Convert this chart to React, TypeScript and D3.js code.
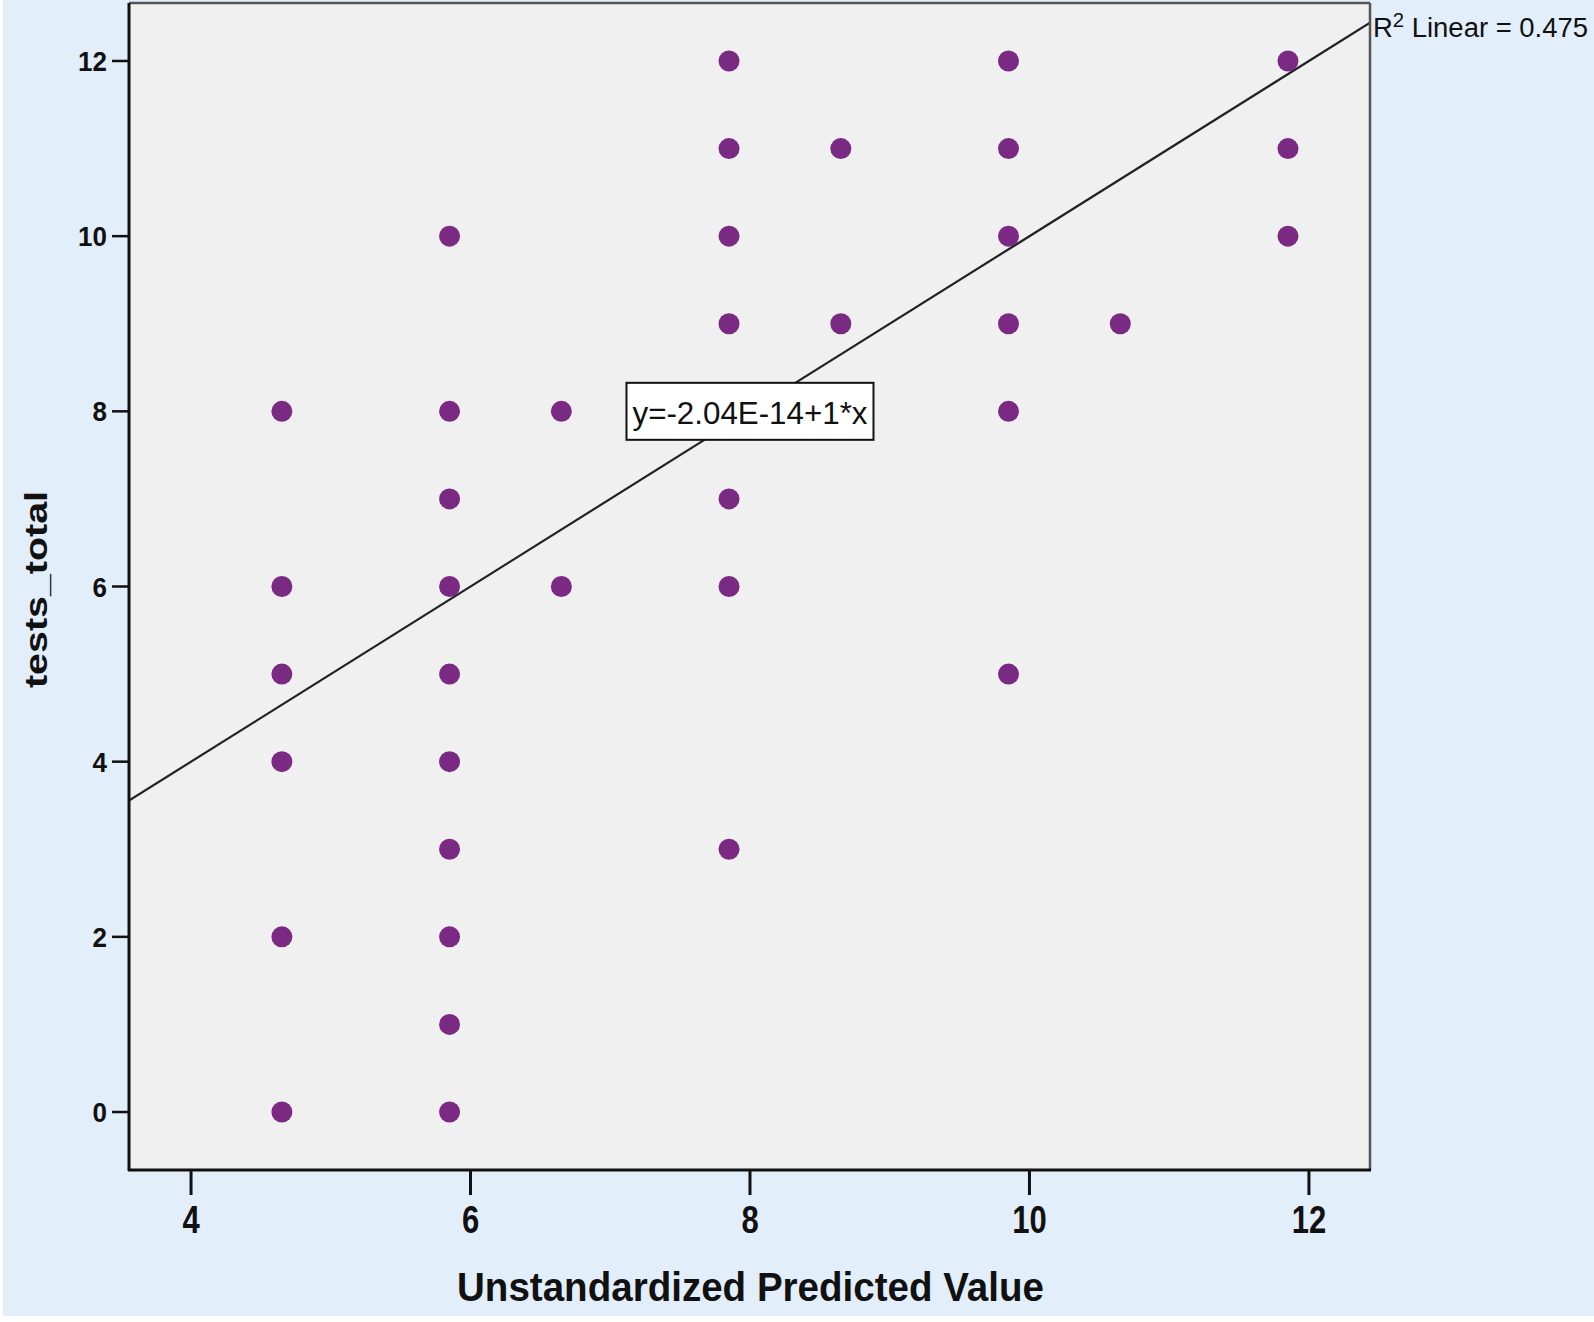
import React from "react";
import * as d3 from "d3";

// predicted value levels (x) and the tests_total values seen at each level (y)
const predictedLevels = [4.65, 5.85, 6.65, 7.85, 8.65, 9.85, 10.65, 11.85];
const testsAtLevel = [
  [8, 6, 5, 4, 2, 0],
  [10, 8, 7, 6, 5, 4, 3, 2, 1, 0],
  [8, 6],
  [12, 11, 10, 9, 7, 6, 3],
  [11, 9],
  [12, 11, 10, 9, 8, 5],
  [9],
  [12, 11, 10],
];

const xTicks = [4, 6, 8, 10, 12];
const yTicks = [0, 2, 4, 6, 8, 10, 12];

const fitIntercept = -2.04e-14;
const fitSlope = 1;
const rSquared = "0.475";
const equationLabel = "y=-2.04E-14+1*x";

const W = 1594;
const H = 1322;
const plot = { left: 129, right: 1370, top: 3, bottom: 1170 };

const dotColor = "#7b2a83";
const sans = "'Liberation Sans', Arial, sans-serif";

const App = () => {
  const x = d3.scaleLinear().domain([3.556, 12.437]).range([plot.left, plot.right]);
  const y = d3.scaleLinear().domain([-0.662, 12.662]).range([plot.bottom, plot.top]);

  const points = predictedLevels.flatMap((px, i) =>
    testsAtLevel[i].map((py) => ({ px, py }))
  );

  const [x0, x1] = x.domain();
  const fitLine = d3
    .line<number>()
    .x((d) => x(d))
    .y((d) => y(fitIntercept + fitSlope * d));

  const boxW = 247;
  const boxH = 57;
  const bx = x(8);
  const by = y(fitIntercept + fitSlope * 8);

  return (
    <div style={{ position: "absolute", left: 0, top: 0 }}>
      <svg width={W} height={H} style={{ display: "block" }}>
        <rect x={0} y={0} width={W} height={H} fill="#ffffff" />
        <rect x={3} y={0} width={W - 3} height={1316} fill="#e2eefa" />

        <defs>
          <clipPath id="plotClip">
            <rect x={plot.left} y={plot.top} width={plot.right - plot.left} height={plot.bottom - plot.top} />
          </clipPath>
        </defs>

        <rect
          x={plot.left}
          y={plot.top}
          width={plot.right - plot.left}
          height={plot.bottom - plot.top}
          fill="#f0f0f0"
        />

        {/* fit line */}
        <path
          d={fitLine([x0, x1]) || ""}
          stroke="#222"
          strokeWidth={2.2}
          fill="none"
          clipPath="url(#plotClip)"
        />

        {/* points */}
        {points.map((p, i) => (
          <circle key={`pt_${i}`} cx={x(p.px)} cy={y(p.py)} r={10.5} fill={dotColor} />
        ))}

        {/* equation box */}
        <rect
          x={bx - boxW / 2}
          y={by - boxH / 2}
          width={boxW}
          height={boxH}
          fill="#ffffff"
          stroke="#111"
          strokeWidth={2}
        />
        <g transform={`translate(${bx - boxW / 2 + 6},${by + 13}) scale(1,1.08)`}>
          <text
            fontFamily={sans}
            fontSize={29}
            textLength={235}
            lengthAdjust="spacingAndGlyphs"
            fill="#111"
          >
            {equationLabel}
          </text>
        </g>

        {/* frame */}
        <line x1={plot.left} y1={plot.top} x2={plot.right} y2={plot.top} stroke="#555" strokeWidth={2.5} />
        <line x1={plot.right} y1={plot.top} x2={plot.right} y2={plot.bottom} stroke="#555" strokeWidth={2.5} />
        <line x1={plot.left} y1={plot.top} x2={plot.left} y2={plot.bottom + 1} stroke="#111" strokeWidth={3} />
        <line x1={plot.left - 1} y1={plot.bottom} x2={plot.right + 1} y2={plot.bottom} stroke="#111" strokeWidth={3} />

        {/* y axis */}
        {yTicks.map((t) => (
          <g key={`yt_${t}`}>
            <line x1={112} x2={plot.left} y1={y(t)} y2={y(t)} stroke="#111" strokeWidth={2.5} />
            <g transform={`translate(107,${y(t) + 10}) scale(1,1.08)`}>
              <text textAnchor="end" fontFamily={sans} fontWeight="bold" fontSize={26} fill="#111">
                {t}
              </text>
            </g>
          </g>
        ))}

        {/* x axis */}
        {xTicks.map((t) => (
          <g key={`xt_${t}`}>
            <line x1={x(t)} x2={x(t)} y1={plot.bottom} y2={1195} stroke="#111" strokeWidth={3} />
            <g transform={`translate(${x(t)},1233) scale(1,1.25)`}>
              <text textAnchor="middle" fontFamily={sans} fontWeight="bold" fontSize={31} fill="#111">
                {t}
              </text>
            </g>
          </g>
        ))}

        {/* axis titles */}
        <g transform={`translate(${(plot.left + plot.right) / 2 + 1},1301) scale(1,1.09)`}>
          <text
            textAnchor="middle"
            fontFamily={sans}
            fontWeight="bold"
            fontSize={38}
            textLength={587}
            lengthAdjust="spacingAndGlyphs"
            fill="#111"
          >
            Unstandardized Predicted Value
          </text>
        </g>
        <text
          transform={`translate(47,${(plot.top + plot.bottom) / 2 + 3}) rotate(-90)`}
          textAnchor="middle"
          fontFamily={sans}
          fontWeight="bold"
          fontSize={32}
          textLength={197}
          lengthAdjust="spacingAndGlyphs"
          fill="#111"
        >
          tests_total
        </text>

        {/* R squared label */}
        <text
          x={1373}
          y={37}
          fontFamily={sans}
          fontSize={27}
          textLength={215}
          lengthAdjust="spacingAndGlyphs"
          fill="#111"
        >
          R<tspan fontSize={20} dy={-10}>2</tspan>
          <tspan dy={10}> Linear = {rSquared}</tspan>
        </text>
      </svg>
    </div>
  );
};

export default App;
